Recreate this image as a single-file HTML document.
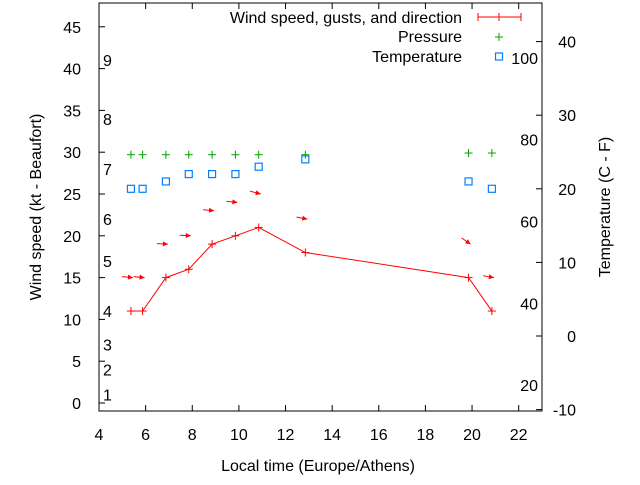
<!DOCTYPE html>
<html><head><meta charset="utf-8"><style>
html,body{margin:0;padding:0;background:#fff}
svg{font-family:"Liberation Sans",sans-serif;font-size:16px}
</style></head><body>
<svg id="chart" width="640" height="480" viewBox="0 0 640 480" xmlns="http://www.w3.org/2000/svg">
<rect x="0" y="0" width="640" height="480" fill="#fff"/>
<g id="axes"></g>
<g id="marks"></g>
</svg>
<script>
const times = [5.37,5.87,6.87,7.85,8.85,9.85,10.85,12.85,19.85,20.85];
const windSpeed = [11,11,15,16,19,20,21,18,15,11];
const gusts = [15,15,19,20,23,24,25,22,19,15];
const directionDeg = [85,85,87,87,85,85,75,80,55,80];
const pressure = [29.7,29.7,29.7,29.7,29.7,29.7,29.7,29.7,29.9,29.9];
const temperatureC = [20,20,21,22,22,22,23,24,21,20];
const xTicks = [4,6,8,10,12,14,16,18,20,22];
const yTicks = [0,5,10,15,20,25,30,35,40,45];
const y2Ticks = [-10,0,10,20,30,40];
const fTicks = [20,40,60,80,100];
const beaufortLabels = [1,2,3,4,5,6,7,8,9];
const beaufortKt = [1,4,7,11,17,22,28,34,41];

const L=99,R=542,T=3,B=411;
const X=t=>L+(t-4)*(R-L)/19;
const Y=v=>403-v*8.36;
const Y2=c=>336-c*7.36;
const NS="http://www.w3.org/2000/svg";
function mk(tag,attrs,parent,txt){const e=document.createElementNS(NS,tag);for(const k in attrs)e.setAttribute(k,attrs[k]);if(txt!==undefined)e.textContent=txt;parent.appendChild(e);return e;}
const ax=document.getElementById('axes'), mg=document.getElementById('marks');

let frame=mk('rect',{x:L,y:T,width:R-L,height:B-T,fill:'none',stroke:'#000','stroke-width':1},ax);



xTicks.forEach(t=>{const x=X(t);
 mk('line',{x1:x,y1:B,x2:x,y2:B-6,stroke:'#000'},ax);
 mk('line',{x1:x,y1:T,x2:x,y2:T+6,stroke:'#000'},ax);
 let tx=mk('text',{x:x,y:B+29,'text-anchor':'middle'},ax,String(t));
 
 
});
yTicks.forEach(v=>{const y=Y(v);
 mk('line',{x1:L,y1:y,x2:L+6,y2:y,stroke:'#000'},ax);
 let tx=mk('text',{x:L-18,y:y+6,'text-anchor':'end'},ax,String(v));
 
 
});
y2Ticks.forEach(c=>{const y=Y2(c);
 mk('line',{x1:R,y1:y,x2:R-6,y2:y,stroke:'#000'},ax);
 let tx=mk('text',{x:576,y:y+6,'text-anchor':'end'},ax,String(c));
 
 
});
fTicks.forEach(f=>{const y=Y2((f-32)/1.8);
 let tx=mk('text',{x:538,y:y+6,'text-anchor':'end'},ax,String(f));
 
 
});
beaufortLabels.forEach((b,i)=>{
 let tx=mk('text',{x:103,y:Y(beaufortKt[i])+6},ax,String(b));
 
 
});
let xt=mk('text',{x:318,y:471,'text-anchor':'middle'},ax,'Local time (Europe/Athens)');


let yt=mk('text',{x:0,y:0,'text-anchor':'middle',transform:'translate(41,207) rotate(-90)'},ax,'Wind speed (kt - Beaufort)');


let y2t=mk('text',{x:0,y:0,'text-anchor':'middle',transform:'translate(610,207) rotate(-90)'},ax,'Temperature (C - F)');



let pts=times.map((t,i)=>X(t)+','+Y(windSpeed[i])).join(' ');
let wl=mk('polyline',{points:pts,fill:'none',stroke:'#f00','stroke-width':1},mg);


function plus(x,y,c,name){const g=mk('g',{stroke:c,'stroke-width':1},mg);
 
 
 mk('line',{x1:x-4,y1:y,x2:x+4,y2:y},g);mk('line',{x1:x,y1:y-4,x2:x,y2:y+4},g);}
times.forEach((t,i)=>plus(X(t),Y(windSpeed[i]),'#f00','wind-point'));
times.forEach((t,i)=>{
 const x=X(t)+2,y=Y(gusts[i]);const a=directionDeg[i]*Math.PI/180;
 const ux=Math.sin(a),uy=Math.cos(a);
 const len=11;const x0=x-ux*len,y0=y-uy*len;
 const g=mk('g',{},mg);
 
 
 mk('line',{x1:x0,y1:y0,x2:x,y2:y,stroke:'#f00','stroke-width':1},g);
 const px=-uy,py=ux;
 mk('polygon',{points:`${x},${y} ${x-ux*5+px*2.5},${y-uy*5+py*2.5} ${x-ux*5-px*2.5},${y-uy*5-py*2.5}`,fill:'#f00'},g);
});
times.forEach((t,i)=>plus(X(t),Y(pressure[i]),'#00a000','pressure-point'));
times.forEach((t,i)=>{let r=mk('rect',{x:X(t)-3.5,y:Y2(temperatureC[i])-3.5,width:7,height:7,fill:'none',stroke:'#0080ff','stroke-width':1.2},mg);
 
 });

const lg=mk('g',{},mg);


mk('text',{x:462,y:23,'text-anchor':'end'},lg,'Wind speed, gusts, and direction');
mk('text',{x:462,y:42,'text-anchor':'end'},lg,'Pressure');
mk('text',{x:462,y:62,'text-anchor':'end'},lg,'Temperature');
mk('line',{x1:478,y1:17,x2:521,y2:17,stroke:'#f00'},lg);
mk('line',{x1:478,y1:13,x2:478,y2:21,stroke:'#f00'},lg);
mk('line',{x1:521,y1:13,x2:521,y2:21,stroke:'#f00'},lg);
mk('line',{x1:499,y1:13,x2:499,y2:21,stroke:'#f00'},lg);
mk('line',{x1:495,y1:37,x2:503,y2:37,stroke:'#00a000'},lg);
mk('line',{x1:499,y1:33,x2:499,y2:41,stroke:'#00a000'},lg);
mk('rect',{x:495.5,y:53,width:7,height:7,fill:'none',stroke:'#0080ff','stroke-width':1.2},lg);
</script>
</body></html>
